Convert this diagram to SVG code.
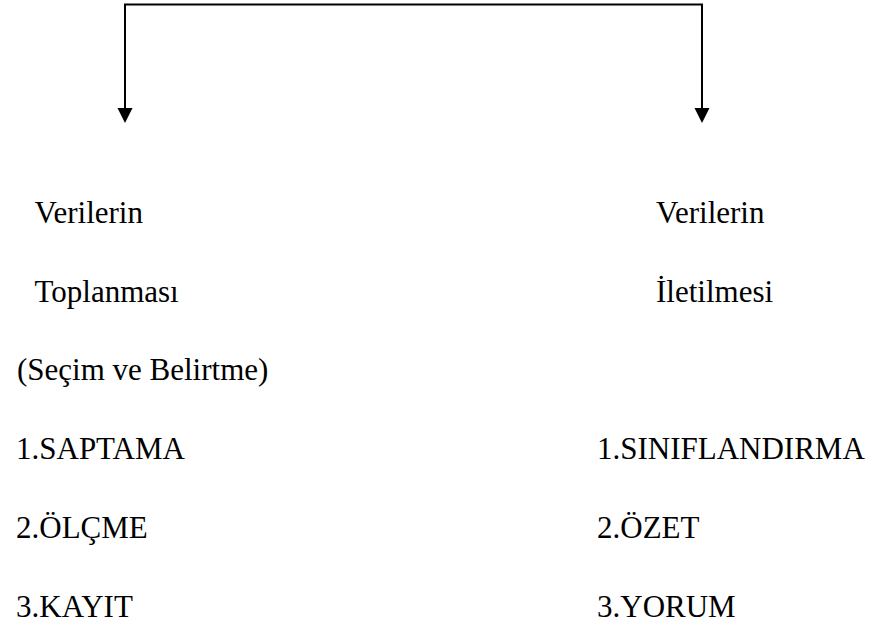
<svg xmlns="http://www.w3.org/2000/svg" width="878" height="628" viewBox="0 0 878 628">
<style>
.t{font-family:'Liberation Serif','Times New Roman',serif;font-size:31px;fill:#000}
.ln{fill:none;stroke:#000;stroke-width:2}
</style>
<rect width="878" height="628" fill="#fff"/>
<g id="connectors">
<path class="ln" d="M125,108 V4.5 H702 V108"/>
<path d="M117.5,108 L132.5,108 L125,123 z" fill="#000"/>
<path d="M694.5,108 L709.5,108 L702,123 z" fill="#000"/>
</g>
<g id="left" class="t">
<text x="34.5" y="223">Verilerin</text>
<text x="34.5" y="302">Toplanması</text>
<text x="17" y="380">(Seçim ve Belirtme)</text>
<text x="16" y="459">1.SAPTAMA</text>
<text x="16" y="538">2.ÖLÇME</text>
<text x="16" y="617">3.KAYIT</text>
</g>
<g id="right" class="t">
<text x="656" y="223">Verilerin</text>
<text x="656" y="302">İletilmesi</text>
<text x="597" y="459">1.SINIFLANDIRMA</text>
<text x="597" y="538">2.ÖZET</text>
<text x="597" y="617">3.YORUM</text>
</g>
</svg>
